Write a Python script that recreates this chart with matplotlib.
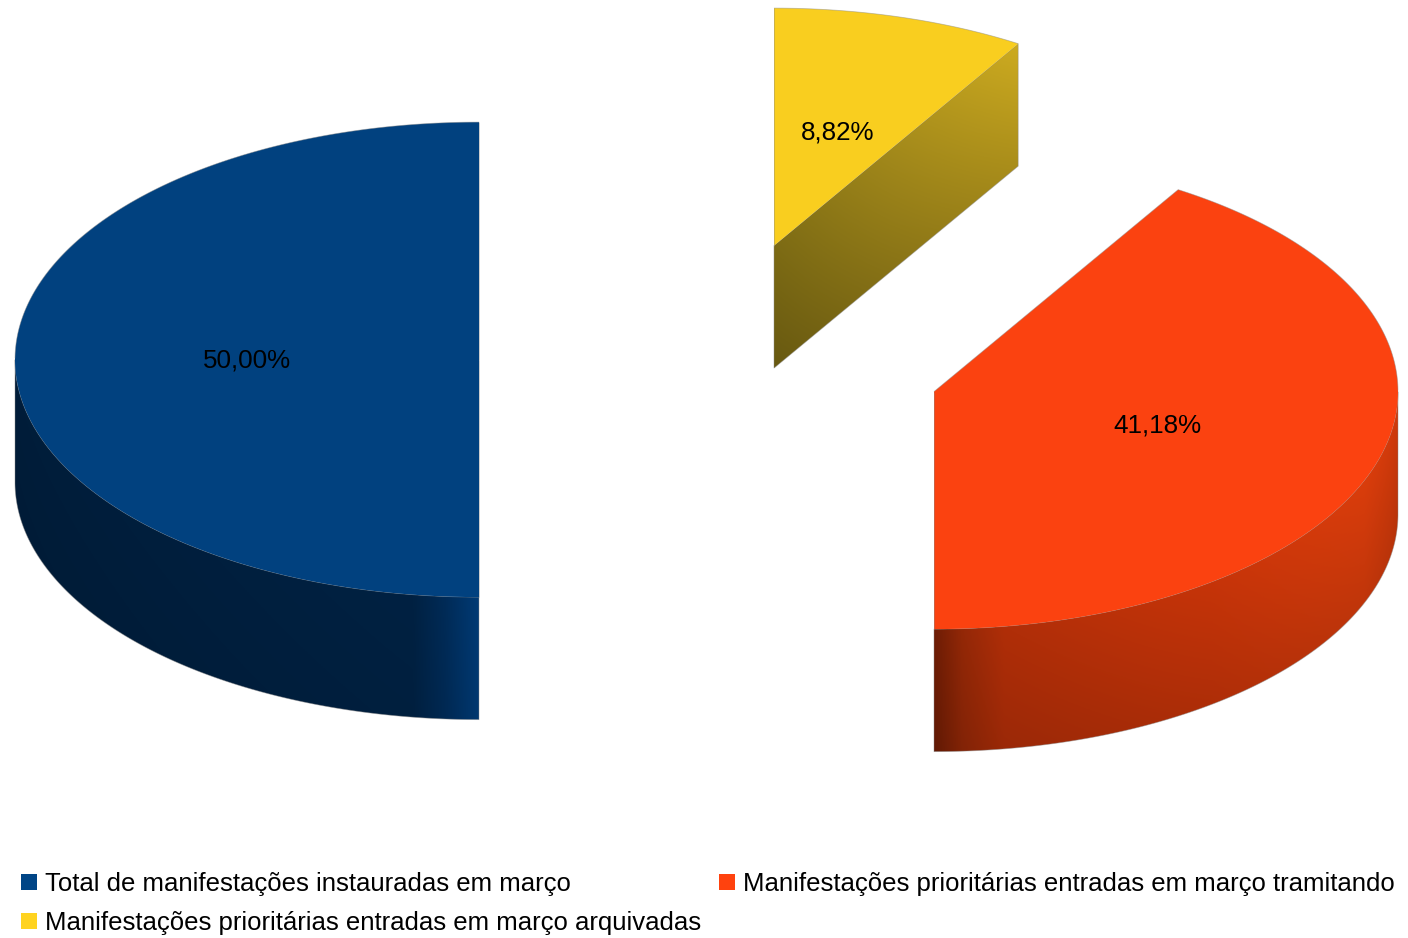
import numpy as np
import matplotlib
matplotlib.use("Agg")
import matplotlib.pyplot as plt
from matplotlib.patches import Polygon, Patch
from matplotlib.colors import LinearSegmentedColormap

# --- data ---
categories = ["Total de manifestações instauradas em março",
              "Manifestações prioritárias entradas em março tramitando",
              "Manifestações prioritárias entradas em março arquivadas"]
shares = [50.00, 41.18, 8.82]
labels = ["50,00%", "41,18%", "8,82%"]

# --- style / layout ---
legend_colors = ["#004586", "#ff420e", "#ffd320"]
top_colors = ["#01417f", "#fb4210", "#f9ce1f"]
centers = [(479, 359.6), (934, 391.6), (774, 245.6)]
RX, RY, DEPTH = 464, 237.5, 122.5
FONT = "Liberation Sans"
EDGE = dict(color="#8a8a8a", lw=0.6, alpha=0.5, zorder=3.5, solid_capstyle="butt")

fig = plt.figure(figsize=(14.08, 9.38), dpi=100)
ax = fig.add_axes([0, 0, 1, 1])
ax.set_xlim(0, 1408)
ax.set_ylim(938, 0)
ax.axis("off")


def pt(c, t):
    return c[0] - RX * np.sin(t), c[1] - RY * np.cos(t)


def ramp(poly_xy, stops, top_x, top_y, vshade, z=2):
    """Colour ramp along x, darkened towards the lower rim, clipped to the polygon."""
    xy = np.asarray(poly_xy)
    x0, x1, y0, y1 = xy[:, 0].min(), xy[:, 0].max(), xy[:, 1].min(), xy[:, 1].max()
    cmap = LinearSegmentedColormap.from_list("r", stops)
    nx, ny = 900, 900
    gx = np.linspace(x0, x1, nx)
    gy = np.linspace(y0, y1, ny)
    order = np.argsort(top_x)
    ytop = np.interp(gx, np.asarray(top_x)[order], np.asarray(top_y)[order])
    d = np.clip((gy[:, None] - ytop[None, :]) / DEPTH, 0, 1)
    rgb = cmap(np.linspace(0, 1, nx))[:, :3][None, :, :] * (1 - vshade * d)[:, :, None]
    im = ax.imshow(rgb, extent=(x0, x1, y1, y0), aspect="auto", zorder=z,
                   interpolation="bilinear")
    p = Polygon(xy, closed=True, transform=ax.transData, fc="none", ec="none")
    ax.add_patch(p)
    im.set_clip_path(p)
    return im


def outline(xy, z):
    ax.add_patch(Polygon(xy, closed=True, fc="none", ec="#8a8a8a", lw=0.6, alpha=0.5, zorder=z))


side_stops = {
    0: [(0.0, "#011d3a"), (0.86, "#012142"), (0.93, "#012b57"), (1.0, "#003a74")],
    1: [(0.0, "#6f1d05"), (0.06, "#942807"), (0.15, "#b02e08"),
        (0.6, "#c63409"), (0.93, "#da3d0c"), (1.0, "#d03a0b")],
}
side_vshade = {0: 0.05, 1: 0.12}

cum = np.cumsum([0] + shares) / 100 * 2 * np.pi
for i, (share, lab, c) in enumerate(zip(shares, labels, centers)):
    a, b = cum[i], cum[i + 1]
    ts = np.linspace(a, b, 300)
    xs, ys = pt(c, ts)
    top = np.column_stack([np.r_[c[0], xs], np.r_[c[1], ys]])

    if i in side_stops:
        # outer rim, only the part facing the viewer (lower half of the ellipse)
        lo = max(a, np.pi / 2)
        hi = min(b, 3 * np.pi / 2)
        tv = np.linspace(lo, hi, 300)
        sx, sy = pt(c, tv)
        side = np.column_stack([np.r_[sx, sx[::-1]], np.r_[sy, sy[::-1] + DEPTH]])
        ramp(side, side_stops[i], sx, sy, side_vshade[i], z=2)
        outline(side, 2.5)
    else:
        # cut face along the first radius of this slice
        ex, ey = pt(c, a)
        side = np.array([[c[0], c[1]], [ex, ey], [ex, ey + DEPTH], [c[0], c[1] + DEPTH]])
        ramp(side, [(0, "#7d6b14"), (0.5, "#a58b1b"), (1, "#cdab20")],
             [c[0], ex], [c[1], ey], 0.17, z=2)
        outline(side, 2.5)

    ax.add_patch(Polygon(top, closed=True, fc=top_colors[i], ec="none", zorder=3))

    # thin edge only where the top face meets the white background
    back = np.cos(ts) >= 0
    ax.plot(xs[back], ys[back], **EDGE)
    bx, by = pt(c, b)
    ax.plot([c[0], bx], [c[1], by], **EDGE)
    if i in side_stops:
        ax0, ay0 = pt(c, a)
        ax.plot([c[0], ax0], [c[1], ay0], **EDGE)

    mid = (a + b) / 2
    lx = c[0] - 0.5 * RX * np.sin(mid)
    ly = c[1] - 0.5 * RY * np.cos(mid)
    ax.text(lx, ly + 1, lab, ha="center", va="center", fontsize=18.7, family=FONT,
            color="black", zorder=5)

ax.set_xlim(0, 1408)
ax.set_ylim(938, 0)

handles = [Patch(fc=legend_colors[i], ec="none", label=categories[i]) for i in (0, 2, 1)]
fig.legend(handles=handles, loc="upper left", bbox_to_anchor=(21 / 1408, 1 - 872 / 938),
           ncols=2, frameon=False, borderpad=0, borderaxespad=0,
           handlelength=0.62, handleheight=0.62, handletextpad=0.3,
           columnspacing=0.72, labelspacing=0.58,
           prop={"family": FONT, "size": 18.5})

fig.savefig("out.png", dpi=100, facecolor="white")
